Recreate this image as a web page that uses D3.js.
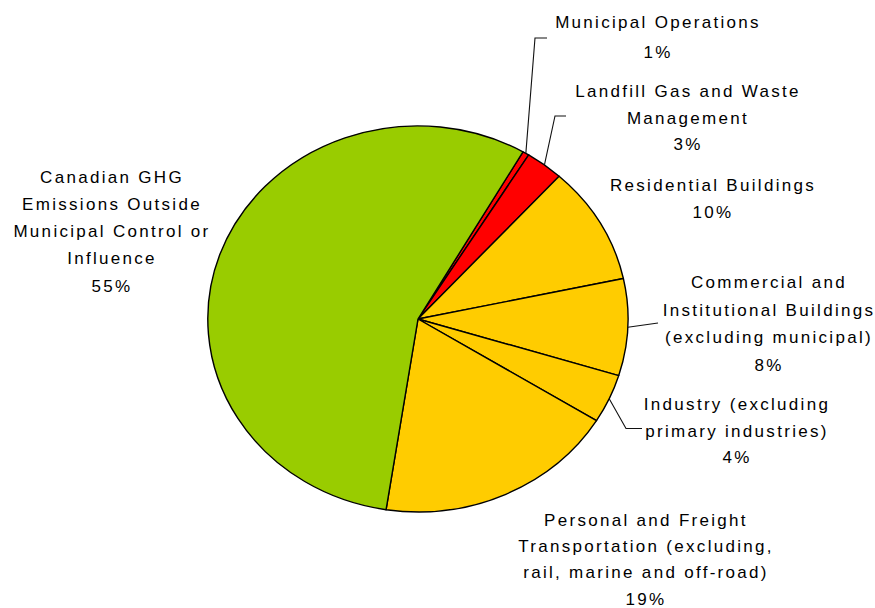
<!DOCTYPE html>
<html>
<head>
<meta charset="utf-8">
<script src="https://cdn.jsdelivr.net/npm/d3@7/dist/d3.min.js"></script>
<style>
  html, body { margin: 0; padding: 0; background: #fff; }
  svg { display: block; }
  text { font-family: "Liberation Sans", Arial, sans-serif; font-size: 17px; letter-spacing: 2.3px; fill: #000; }
</style>
</head>
<body>
<script>
// ---- data ----
const categories = [
  "Municipal Operations",
  "Landfill Gas and Waste Management",
  "Residential Buildings",
  "Commercial and Institutional Buildings (excluding municipal)",
  "Industry (excluding primary industries)",
  "Personal and Freight Transportation (excluding, rail, marine and off-road)",
  "Canadian GHG Emissions Outside Municipal Control or Influence"
];
const values = [0.5, 2.9, 9.9, 8.1, 4.1, 18.6, 55.9];
const percentLabels = ["1%", "3%", "10%", "8%", "4%", "19%", "55%"];
const labelLines = [
  ["Municipal Operations"],
  ["Landfill Gas and Waste", "Management"],
  ["Residential Buildings"],
  ["Commercial and", "Institutional Buildings", "(excluding municipal)"],
  ["Industry (excluding", "primary industries)"],
  ["Personal and Freight", "Transportation (excluding,", "rail, marine and off-road)"],
  ["Canadian GHG", "Emissions Outside", "Municipal Control or", "Influence"]
];
const sliceColors = ["#FF0000", "#FF0000", "#FFCC00", "#FFCC00", "#FFCC00", "#FFCC00", "#99CC00"];

// ---- layout (positions only) ----
const W = 875, H = 608;
const cx = 418, cy = 319, rx = 210, ry = 193;
const startDeg = 30;
const labelLayout = [
  { x: 657, y: 28,    lh: 30,   leader: [[535, 38], [547, 38]] },
  { x: 687, y: 97,    lh: 26.5, leader: [[555, 116], [566, 116]] },
  { x: 712, y: 190.5, lh: 27,   leader: null },
  { x: 768, y: 288,   lh: 27.5, leader: [[658, 323]] },
  { x: 736, y: 410,   lh: 26.7, leader: [[626, 428.5], [642, 428.5]] },
  { x: 645, y: 526,   lh: 26.2, leader: null },
  { x: 111, y: 182.5, lh: 27.3, leader: null }
];

const svg = d3.select("body").append("svg").attr("width", W).attr("height", H);

const pie = d3.pie().sort(null).value(d => d)
  .startAngle(startDeg * Math.PI / 180)
  .endAngle(startDeg * Math.PI / 180 + 2 * Math.PI);
const arcs = pie(values);
const arc = d3.arc().innerRadius(0).outerRadius(1);

const g = svg.append("g").attr("transform", `translate(${cx},${cy}) scale(${rx},${ry})`);
g.selectAll("path").data(arcs).join("path")
  .attr("d", arc)
  .attr("fill", (d, i) => sliceColors[i])
  .attr("stroke", "#000")
  .attr("stroke-width", 1.4)
  .attr("stroke-linejoin", "round")
  .attr("vector-effect", "non-scaling-stroke");

// point on ellipse edge at slice mid-angle
function edgePoint(d) {
  const a = (d.startAngle + d.endAngle) / 2;
  return [cx + rx * Math.sin(a), cy - ry * Math.cos(a)];
}

// leaders
arcs.forEach((d, i) => {
  const L = labelLayout[i];
  if (!L.leader) return;
  const pts = [edgePoint(d), ...L.leader];
  svg.append("path")
    .attr("d", d3.line()(pts))
    .attr("fill", "none")
    .attr("stroke", "#111")
    .attr("stroke-width", 1.1);
});

// labels
labelLines.forEach((lines, i) => {
  const L = labelLayout[i];
  const all = lines.concat([percentLabels[i]]);
  const t = svg.append("text").attr("text-anchor", "middle");
  all.forEach((s, k) => {
    t.append("tspan").attr("x", L.x + 1).attr("y", L.y + k * L.lh).text(s);
  });
});
</script>
</body>
</html>
